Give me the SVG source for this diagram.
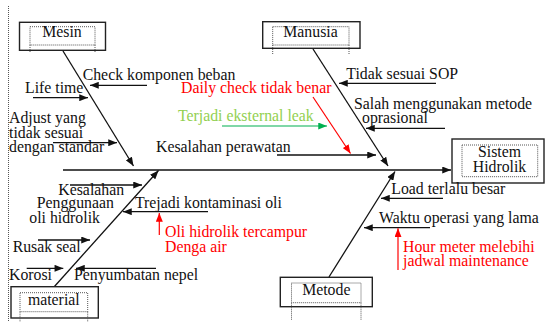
<svg xmlns="http://www.w3.org/2000/svg" width="546" height="322" viewBox="0 0 546 322">
<style>
text{font-family:"Liberation Serif","Times New Roman",serif;font-size:15.8px;fill:#111}
.red{fill:#ff0000}
.grn{fill:#92d050}
.mid{text-anchor:middle}
.ln{stroke:#222;stroke-width:1.3;fill:none}
.ar{stroke:#111;stroke-width:1.3;fill:none;marker-end:url(#ah)}
.arr{stroke:#ff0000;stroke-width:1.2;fill:none;marker-end:url(#ahr)}
.arg{stroke:#00b050;stroke-width:1.2;fill:none;marker-end:url(#ahg)}
.box{fill:#fff;stroke:#222;stroke-width:1.4}
.dot{fill:none;stroke:#555;stroke-width:1;stroke-dasharray:1 1}
</style>
<defs>
<marker id="ah" viewBox="0 0 10 8" refX="10" refY="4" markerWidth="9" markerHeight="7" markerUnits="userSpaceOnUse" orient="auto"><path d="M0,0L10,4L0,8z" fill="#111"/></marker>
<marker id="ahr" viewBox="0 0 10 8" refX="10" refY="4" markerWidth="9" markerHeight="7" markerUnits="userSpaceOnUse" orient="auto"><path d="M0,0L10,4L0,8z" fill="#ff0000"/></marker>
<marker id="ahg" viewBox="0 0 10 8" refX="10" refY="4" markerWidth="9" markerHeight="7" markerUnits="userSpaceOnUse" orient="auto"><path d="M0,0L10,4L0,8z" fill="#00b050"/></marker>
</defs>
<line x1="8.5" y1="6" x2="8.5" y2="322" class="dot"/>
<g id="connectors">
<line class="ar" x1="63" y1="51" x2="133.5" y2="166"/>
<line class="ar" x1="313" y1="49" x2="388" y2="166"/>
<line class="ar" x1="63" y1="170" x2="451" y2="170"/>
<line class="ar" x1="54" y1="287" x2="158.5" y2="170.5"/>
<line class="ar" x1="329" y1="277" x2="395" y2="171.5"/>
<line class="ar" x1="147" y1="85.3" x2="90" y2="85.3"/>
<line class="ar" x1="33" y1="97.7" x2="88" y2="97.7"/>
<line class="ar" x1="53" y1="142.7" x2="117" y2="142.7"/>
<line class="ar" x1="277" y1="155" x2="376" y2="155"/>
<line class="arr" x1="313" y1="97" x2="350.5" y2="153.5"/>
<line class="arg" x1="222" y1="126" x2="327" y2="126"/>
<line class="ar" x1="436" y1="83.3" x2="339" y2="83.3"/>
<line class="ar" x1="445" y1="128.3" x2="366" y2="128.3"/>
<line class="ar" x1="70" y1="185" x2="142" y2="185"/>
<line class="ar" x1="208" y1="211.7" x2="123" y2="211.7"/>
<line class="arr" x1="159.3" y1="235" x2="159.3" y2="213"/>
<line class="ar" x1="38" y1="240" x2="90" y2="240"/>
<line class="ar" x1="26.7" y1="268.3" x2="63.3" y2="268.3"/>
<line class="ar" x1="156" y1="268.3" x2="76" y2="268.3"/>
<line class="ar" x1="443" y1="198.3" x2="381" y2="198.3"/>
<line class="ar" x1="430" y1="227.7" x2="364" y2="227.7"/>
<line class="arr" x1="398" y1="270" x2="398" y2="228.3"/>
</g>
<g id="mesin">
<rect class="box" x="19.5" y="22.3" width="86" height="28"/>
<rect class="dot" x="30" y="26.7" width="65" height="18.3"/>
<line class="dot" x1="30" y1="45" x2="30" y2="52"/><line class="dot" x1="95" y1="45" x2="95" y2="52"/>
<text class="mid" x="62" y="36.7">Mesin</text>
</g>
<g id="manusia">
<rect class="box" x="262.7" y="21.7" width="97.3" height="26.6"/>
<rect class="dot" x="272.7" y="26.7" width="76.3" height="18.3"/>
<line class="dot" x1="272.7" y1="45" x2="272.7" y2="54"/><line class="dot" x1="349" y1="45" x2="349" y2="54"/>
<text class="mid" x="310.5" y="37">Manusia</text>
</g>
<g id="sistem-hidrolik">
<rect class="box" x="452" y="139" width="92" height="44"/>
<rect class="dot" x="462" y="145" width="75.7" height="31.7"/>
<text class="mid" x="499.5" y="156.7">Sistem</text>
<text class="mid" x="499.5" y="171.7">Hidrolik</text>
</g>
<g id="material">
<rect class="box" x="11" y="286.7" width="87.3" height="31.3"/>
<rect class="dot" x="20" y="292.7" width="67.7" height="19"/>
<line class="dot" x1="20" y1="311.7" x2="20" y2="322"/><line class="dot" x1="87.7" y1="311.7" x2="87.7" y2="322"/>
<text class="mid" x="53.8" y="305">material</text>
</g>
<g id="metode">
<rect class="box" x="280.3" y="277.3" width="92" height="29.4"/>
<rect class="dot" x="291.5" y="283" width="69.5" height="19.7"/>
<line class="dot" x1="291.5" y1="302.7" x2="291.5" y2="320"/><line class="dot" x1="361" y1="302.7" x2="361" y2="320"/>
<text class="mid" x="326.3" y="295">Metode</text>
</g>
<g id="labels">
<text x="82.7" y="80">Check komponen beban</text>
<text x="25" y="93">Life time</text>
<text x="9" y="123">Adjust yang</text>
<text x="9" y="138">tidak sesuai</text>
<text x="9" y="152">dengan standar</text>
<text class="red" x="181" y="93">Daily check tidak benar</text>
<text class="grn" x="178" y="121">Terjadi eksternal leak</text>
<text x="156" y="151.7">Kesalahan perawatan</text>
<text x="346.3" y="79.3">Tidak sesuai SOP</text>
<text x="354" y="109">Salah menggunakan metode</text>
<text x="362" y="122.7">oprasional</text>
<text x="58.3" y="195">Kesalahan</text>
<text x="36.7" y="208.3">Penggunaan</text>
<text x="29.3" y="223.3">oli hidrolik</text>
<text x="135" y="208.3">Trejadi kontaminasi oli</text>
<text class="red" x="165" y="236.7">Oli hidrolik tercampur</text>
<text class="red" x="165" y="251.7">Denga air</text>
<text x="12.7" y="251.7">Rusak seal</text>
<text x="9" y="280">Korosi</text>
<text x="74" y="280">Penyumbatan nepel</text>
<text x="391.3" y="194.3">Load terlalu besar</text>
<text x="379" y="223.3">Waktu operasi yang lama</text>
<text class="red" x="403" y="251.7">Hour meter melebihi</text>
<text class="red" x="403" y="266">jadwal maintenance</text>
</g>
</svg>
